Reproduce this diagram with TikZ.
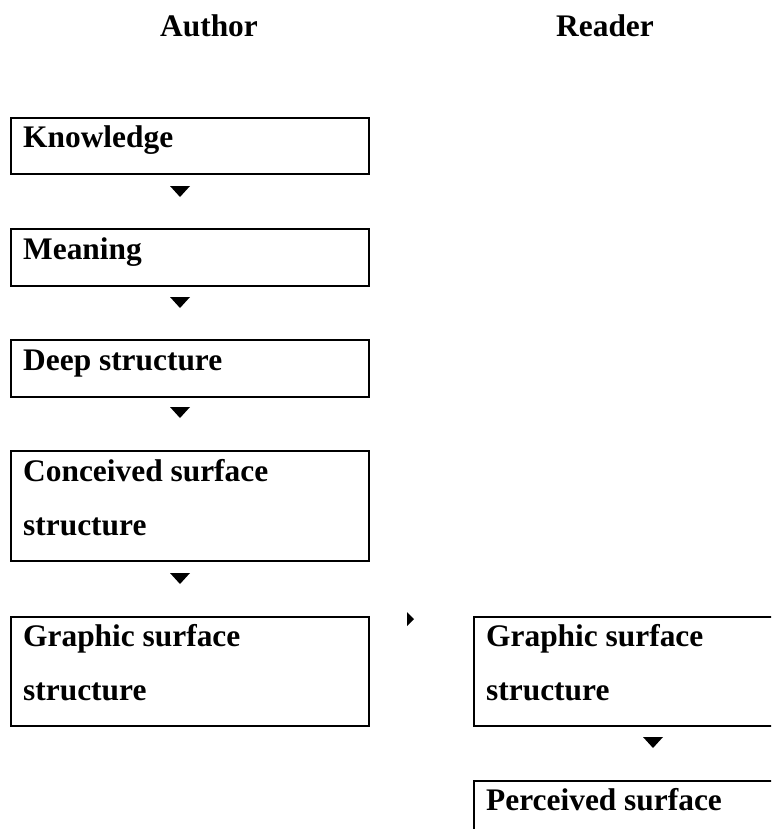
\documentclass[tikz,border=0pt]{standalone}
\usepackage{fontspec}
\setmainfont{Liberation Serif}
\usetikzlibrary{calc}
\tikzset{
  boxA/.style={draw=black, line width=2pt, rectangle, inner sep=0pt, minimum width=358pt, anchor=north west},
  lbl/.style={font=\fontsize{31.4}{54}\selectfont\bfseries, inner sep=0pt, anchor=base west},
  tri/.style={fill=black, draw=none}
}
\begin{document}
\begin{tikzpicture}[x=1pt,y=-1pt]
\useasboundingbox (0,0) rectangle (771,829);
\clip (0,0) rectangle (771,829);
% headers
\node[lbl] (hA) at (160,37) {Author};
\node[lbl] (hR) at (556,37) {Reader};
% left column boxes
\node[boxA, minimum height=56pt] (k) at (10,117) {};
\node[lbl] (kt) at ($(k.north west)+(13,31)$) {Knowledge};
\node[boxA, minimum height=57pt] (m) at (10,228) {};
\node[lbl] (mt) at ($(m.north west)+(13,31)$) {Meaning};
\node[boxA, minimum height=57pt] (d) at (10,339) {};
\node[lbl] (dt) at ($(d.north west)+(13,31)$) {Deep structure};
\node[boxA, minimum height=110pt] (c) at (10,450) {};
\node[lbl] (ct1) at ($(c.north west)+(13,31)$) {Conceived surface};
\node[lbl] (ct2) at ($(c.north west)+(13,85)$) {structure};
\node[boxA, minimum height=109pt] (g) at (10,616) {};
\node[lbl] (gt1) at ($(g.north west)+(13,30)$) {Graphic surface};
\node[lbl] (gt2) at ($(g.north west)+(13,84)$) {structure};
% right column boxes (cut off at the right edge)
\node[boxA, minimum height=109pt] (rg) at (473,616) {};
\node[lbl] (rgt1) at ($(rg.north west)+(13,30)$) {Graphic surface};
\node[lbl] (rgt2) at ($(rg.north west)+(13,84)$) {structure};
\node[boxA, minimum height=110pt] (p) at (473,780) {};
\node[lbl] (pt) at ($(p.north west)+(13,30)$) {Perceived surface};
% arrowheads
\fill[tri] (170,186) -- (190,186) -- (180,197) -- cycle;
\fill[tri] (170,297) -- (190,297) -- (180,308) -- cycle;
\fill[tri] (170,407) -- (190,407) -- (180,418) -- cycle;
\fill[tri] (170,573) -- (190,573) -- (180,584) -- cycle;
\fill[tri] (407,612) -- (414,619) -- (407,626) -- cycle;
\fill[tri] (643,737) -- (663,737) -- (653,748) -- cycle;
\end{tikzpicture}
\end{document}
